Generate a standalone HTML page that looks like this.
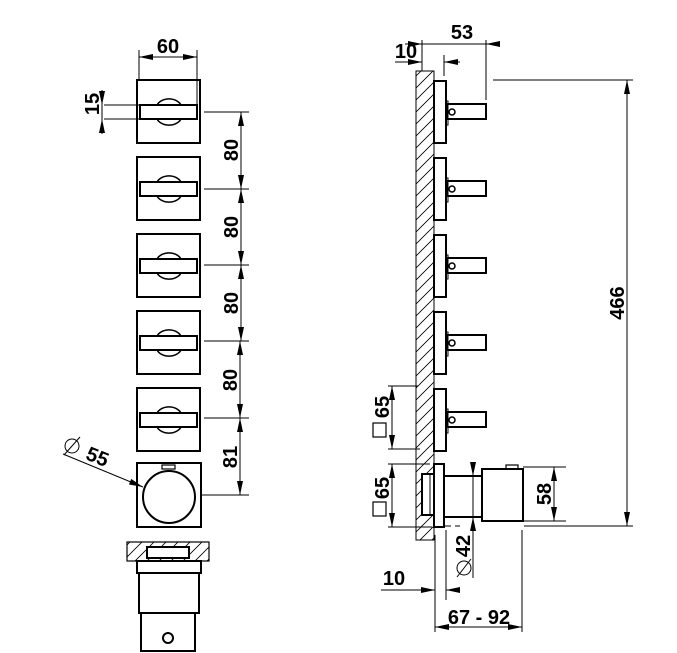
<!DOCTYPE html>
<html><head><meta charset="utf-8"><style>
html,body{margin:0;padding:0;background:#fff}
svg{display:block}
text{font-family:"Liberation Sans",Arial,sans-serif;font-weight:bold;font-size:20px;fill:#000}
</style></head><body>
<svg width="677" height="653" viewBox="0 0 677 653" xmlns="http://www.w3.org/2000/svg">
<defs>
<marker id="a" viewBox="0 0 14 6" refX="14" refY="3" markerWidth="14" markerHeight="6" markerUnits="userSpaceOnUse" orient="auto-start-reverse"><path d="M0,0 L14,3 L0,6 z" fill="#000"/></marker>
<pattern id="h" patternUnits="userSpaceOnUse" width="12" height="12">
<path d="M-3,15 L15,-3 M-15,15 L3,-3 M9,15 L27,-3" stroke="#000" stroke-width="0.8"/>
</pattern>
</defs>
<g fill="none" stroke="#000" stroke-width="2">
<g id="sq">
<rect x="137" y="80" width="63" height="63"/>
<path d="M157,105 A13,10 0 0 1 181,105 M157,119 A13,10 0 0 0 181,119" stroke-width="1.5"/>
<rect x="140" y="105" width="57" height="14" fill="#fff"/>
</g>
<use href="#sq" y="77"/>
<use href="#sq" y="154"/>
<use href="#sq" y="231"/>
<use href="#sq" y="308"/>
<rect x="137" y="463" width="64" height="64"/>
<circle cx="169" cy="497" r="26"/>
<rect x="162" y="465" width="13" height="4" stroke-width="1.2"/>
<rect x="127" y="542" width="82" height="19" fill="url(#h)" stroke-width="1.2"/>
<rect x="147" y="547" width="42" height="11" fill="#fff"/>
<rect x="137" y="561" width="64" height="12" fill="#fff"/>
<rect x="139" y="573" width="60" height="40"/>
<rect x="141" y="613" width="54" height="38"/>
<circle cx="168" cy="638" r="5"/>

<rect x="416" y="71" width="18" height="469" fill="url(#h)" stroke-width="1"/>
<g id="pl">
<rect x="434" y="81" width="12" height="62" fill="#fff"/>
<rect x="446" y="101" width="2" height="24" stroke-width="1"/>
<rect x="447" y="104" width="39" height="15"/>
<circle cx="452" cy="112" r="3" stroke-width="1.5"/>
</g>
<use href="#pl" y="77"/>
<use href="#pl" y="154"/>
<use href="#pl" y="231"/>
<use href="#pl" y="308"/>
<rect x="422" y="474" width="12" height="41" fill="#fff"/>
<line x1="430" y1="474" x2="430" y2="515" stroke-width="1"/>
<rect x="434" y="464" width="10" height="63" fill="#fff"/>
<rect x="444" y="476" width="38" height="41"/>
<rect x="482" y="469" width="41" height="52" fill="#fff"/>
<rect x="506" y="465" width="12" height="4" stroke-width="1.2"/>
</g>

<g stroke="#000" stroke-width="1" fill="none">
<line x1="139" y1="50" x2="139" y2="80"/><line x1="197" y1="50" x2="197" y2="105"/>
<line x1="139" y1="57" x2="197" y2="57" marker-start="url(#a)" marker-end="url(#a)"/>
<line x1="104" y1="105" x2="140" y2="105"/><line x1="104" y1="119" x2="140" y2="119"/>
<line x1="102" y1="90" x2="102" y2="105" marker-end="url(#a)"/>
<line x1="102" y1="134" x2="102" y2="119" marker-end="url(#a)"/>
<line x1="102" y1="105" x2="102" y2="119"/>
<line x1="204" y1="112" x2="249" y2="112"/><line x1="204" y1="189" x2="249" y2="189"/>
<line x1="204" y1="265" x2="249" y2="265"/><line x1="204" y1="341" x2="249" y2="341"/>
<line x1="204" y1="418" x2="249" y2="418"/><line x1="201" y1="495" x2="249" y2="495"/>
<line x1="241" y1="112" x2="241" y2="189" marker-start="url(#a)" marker-end="url(#a)"/>
<line x1="241" y1="189" x2="241" y2="265" marker-start="url(#a)" marker-end="url(#a)"/>
<line x1="241" y1="265" x2="241" y2="341" marker-start="url(#a)" marker-end="url(#a)"/>
<line x1="240" y1="341" x2="240" y2="418" marker-start="url(#a)" marker-end="url(#a)"/>
<line x1="240" y1="418" x2="240" y2="495" marker-start="url(#a)" marker-end="url(#a)"/>
<line x1="63" y1="454" x2="143" y2="487" marker-end="url(#a)"/>
<circle cx="72" cy="446" r="7"/><line x1="64" y1="455" x2="80" y2="437"/>

<line x1="422" y1="40" x2="422" y2="71"/><line x1="486" y1="40" x2="486" y2="100"/>
<line x1="405" y1="44" x2="422" y2="44" marker-end="url(#a)"/>
<line x1="500" y1="44" x2="486" y2="44" marker-end="url(#a)"/>
<line x1="422" y1="44" x2="486" y2="44"/>
<line x1="444" y1="55" x2="444" y2="76"/>
<line x1="395" y1="62" x2="422" y2="62" marker-end="url(#a)"/>
<line x1="460" y1="62" x2="444" y2="62" marker-end="url(#a)"/>
<line x1="493" y1="80" x2="633" y2="80"/><line x1="524" y1="526" x2="633" y2="526"/>
<line x1="627" y1="80" x2="627" y2="526" marker-start="url(#a)" marker-end="url(#a)"/>
<line x1="388" y1="386" x2="418" y2="386"/><line x1="388" y1="449" x2="420" y2="449"/>
<line x1="392" y1="386" x2="392" y2="449" marker-start="url(#a)" marker-end="url(#a)"/>
<rect x="373" y="423" width="13" height="14" stroke-width="1.2"/>
<line x1="388" y1="464" x2="430" y2="464"/><line x1="388" y1="527" x2="432" y2="527"/>
<line x1="392" y1="464" x2="392" y2="527" marker-start="url(#a)" marker-end="url(#a)"/>
<rect x="373" y="502" width="13" height="14" stroke-width="1.2"/>
<line x1="523" y1="467" x2="566" y2="467"/><line x1="523" y1="521" x2="566" y2="521"/>
<line x1="554" y1="467" x2="554" y2="521" marker-start="url(#a)" marker-end="url(#a)"/>
<line x1="473" y1="462" x2="473" y2="476" marker-end="url(#a)"/>
<line x1="473" y1="531" x2="473" y2="517" marker-end="url(#a)"/>
<line x1="473" y1="476" x2="473" y2="578"/>
<line x1="445" y1="526" x2="460" y2="526" stroke-dasharray="6 4"/>
<line x1="435" y1="535" x2="435" y2="600"/><line x1="446" y1="530" x2="446" y2="600"/>
<line x1="381" y1="590" x2="435" y2="590" marker-end="url(#a)"/>
<line x1="460" y1="590" x2="446" y2="590" marker-end="url(#a)"/>
<line x1="435" y1="600" x2="435" y2="632"/><line x1="522" y1="530" x2="522" y2="632"/>
<line x1="435" y1="627" x2="522" y2="627" marker-start="url(#a)" marker-end="url(#a)"/>
<circle cx="464" cy="568" r="7"/><line x1="457" y1="577" x2="471" y2="559"/>
</g>

<text x="168" y="53" text-anchor="middle">60</text>
<text transform="translate(99,104) rotate(-90)" text-anchor="middle">15</text>
<text transform="translate(238,150) rotate(-90)" text-anchor="middle">80</text>
<text transform="translate(238,227) rotate(-90)" text-anchor="middle">80</text>
<text transform="translate(238,303) rotate(-90)" text-anchor="middle">80</text>
<text transform="translate(237,380) rotate(-90)" text-anchor="middle">80</text>
<text transform="translate(237,457) rotate(-90)" text-anchor="middle">81</text>
<text transform="translate(95,463) rotate(22)" text-anchor="middle">55</text>
<text x="462" y="39" text-anchor="middle">53</text>
<text x="406" y="58" text-anchor="middle">10</text>
<text transform="translate(624,303) rotate(-90)" text-anchor="middle">466</text>
<text transform="translate(389,407) rotate(-90)" text-anchor="middle">65</text>
<text transform="translate(389,488) rotate(-90)" text-anchor="middle">65</text>
<text transform="translate(551,494) rotate(-90)" text-anchor="middle">58</text>
<text transform="translate(470,546) rotate(-90)" text-anchor="middle">42</text>
<text x="394" y="585" text-anchor="middle">10</text>
<text x="479" y="624" text-anchor="middle">67 - 92</text>
</svg>
</body></html>
